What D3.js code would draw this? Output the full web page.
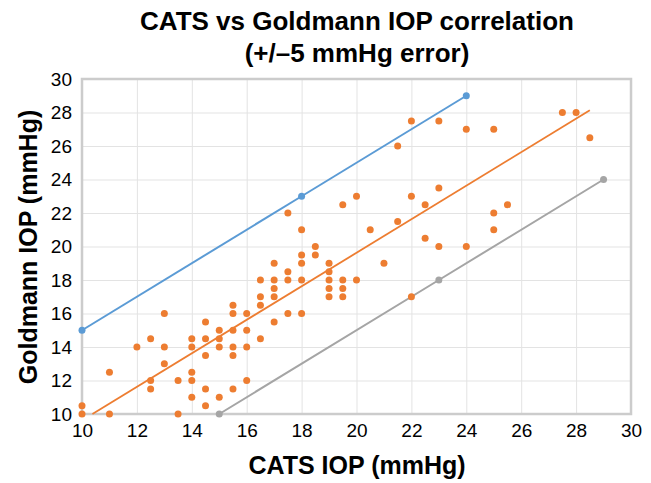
<!DOCTYPE html>
<html>
<head>
<meta charset="utf-8">
<script src="https://cdn.jsdelivr.net/npm/d3@7"></script>
<style>
  body { margin: 0; background: #fff; }
  text { font-family: "Liberation Sans", Arial, sans-serif; }
</style>
</head>
<body>
<div id="chart"></div>
<script>
// measured CATS / Goldmann pairs (mmHg)
var catsIOP = [10, 10, 11, 11, 12, 12.5, 12.5, 12.5, 13, 13, 13, 13.5, 13.5,
  14, 14, 14, 14, 14,
  14.5, 14.5, 14.5, 14.5, 14.5,
  15, 15, 15, 15,
  15.5, 15.5, 15.5, 15.5, 15.5, 15.5,
  16, 16, 16, 16,
  16.5, 16.5, 16.5, 16.5,
  17, 17, 17, 17, 17,
  17.5, 17.5, 17.5, 17.5,
  18, 18, 18, 18, 18,
  18.5, 18.5,
  19, 19, 19, 19, 19,
  19.5, 19.5, 19.5, 19.5,
  20, 20,
  20.5, 21, 21.5, 21.5,
  22, 22, 22,
  22.5, 22.5,
  23, 23, 23,
  24, 24,
  25, 25, 25, 25.5,
  27.5, 28, 28.5]
var goldmannIOP = [10, 10.5, 10, 12.5, 14, 14.5, 12, 11.5, 16, 14, 13, 12, 10,
  14.5, 14, 12.5, 12, 11,
  15.5, 14.5, 13.5, 11.5, 10.5,
  15, 14.5, 14, 11,
  16.5, 16, 15, 14, 13.5, 11.5,
  16, 15, 14, 12,
  18, 17, 16.5, 14.5,
  19, 18, 17.5, 17, 15.5,
  22, 18.5, 18, 16,
  21, 19.5, 19, 18, 16,
  20, 19.5,
  19, 18.5, 18, 17.5, 17,
  22.5, 18, 17.5, 17,
  23, 18,
  21, 19, 26, 21.5,
  27.5, 23, 17,
  22.5, 20.5,
  27.5, 23.5, 20,
  27, 20,
  27, 22, 21, 22.5,
  28, 28, 26.5]

// +5 / -5 error limit lines
var upperX = [10, 18, 24]
var upperY = [15, 23, 29]
var lowerX = [15, 23, 29]
var lowerY = [10, 18, 24]

// linear trendline ends
var trendX = [10.38, 28.5]
var trendY = [10, 28.13]

var xTicks = [10, 12, 14, 16, 18, 20, 22, 24, 26, 28, 30]
var yTicks = [10, 12, 14, 16, 18, 20, 22, 24, 26, 28, 30]

var W = 651, H = 483
var margin = { top: 79, right: 20, bottom: 69, left: 82 }
var w = W - margin.left - margin.right
var h = H - margin.top - margin.bottom

var svg = d3.select('#chart').append('svg')
    .attr('width', W)
    .attr('height', H)

var g = svg.append('g')
    .attr('transform', 'translate(' + margin.left + ',' + margin.top + ')')

var xScale = d3.scaleLinear().domain([10, 30]).range([0, w])
var yScale = d3.scaleLinear().domain([10, 30]).range([h, 0])

// grid
g.append('g')
    .call(d3.axisBottom(xScale).tickValues(xTicks).tickSize(h).tickFormat(''))
    .call(function (s) { s.select('.domain').remove() })
    .selectAll('line').attr('stroke', '#e3e3e3')
g.append('g')
    .call(d3.axisLeft(yScale).tickValues(yTicks).tickSize(-w).tickFormat(''))
    .call(function (s) { s.select('.domain').remove() })
    .selectAll('line').attr('stroke', '#e3e3e3')

// plot border
g.append('rect')
    .attr('width', w)
    .attr('height', h)
    .attr('fill', 'none')
    .attr('stroke', '#cccccc')
    .attr('stroke-width', 2.5)

// tick labels
var xAxis = g.append('g')
    .attr('transform', 'translate(0,' + h + ')')
    .call(d3.axisBottom(xScale).tickValues(xTicks).tickSize(0).tickPadding(10))
xAxis.select('.domain').remove()
xAxis.selectAll('text')
    .attr('font-size', 19)
    .attr('fill', '#000')
    .attr('font-family', '"Liberation Sans", Arial, sans-serif')

var yAxis = g.append('g')
    .call(d3.axisLeft(yScale).tickValues(yTicks).tickSize(0).tickPadding(10))
yAxis.select('.domain').remove()
yAxis.selectAll('text')
    .attr('font-size', 19)
    .attr('fill', '#000')
    .attr('font-family', '"Liberation Sans", Arial, sans-serif')

var line = d3.line()
    .x(function (d) { return xScale(d[0]) })
    .y(function (d) { return yScale(d[1]) })

// limit lines
function limitSeries(xs, ys, color) {
  var pts = xs.map(function (x, i) { return [x, ys[i]] })
  g.append('path')
      .datum(pts)
      .attr('d', line)
      .attr('fill', 'none')
      .attr('stroke', color)
      .attr('stroke-width', 2)
  g.selectAll(null)
      .data(pts)
      .enter()
    .append('circle')
      .attr('cx', function (d) { return xScale(d[0]) })
      .attr('cy', function (d) { return yScale(d[1]) })
      .attr('r', 3.5)
      .attr('fill', color)
}
limitSeries(upperX, upperY, '#5b9bd5')
limitSeries(lowerX, lowerY, '#a5a5a5')

// trendline
g.append('path')
    .datum(trendX.map(function (x, i) { return [x, trendY[i]] }))
    .attr('d', line)
    .attr('fill', 'none')
    .attr('stroke', '#ed7d31')
    .attr('stroke-width', 1.8)

// measurements
g.selectAll('circle.pt')
    .data(catsIOP)
    .enter()
  .append('circle')
    .attr('class', 'pt')
    .attr('cx', function (d) { return xScale(d) })
    .attr('cy', function (d, i) { return yScale(goldmannIOP[i]) })
    .attr('r', 3.5)
    .attr('fill', '#ed7d31')

// titles
var title = svg.append('text')
    .attr('x', 357)
    .attr('text-anchor', 'middle')
    .attr('font-size', 26)
    .attr('font-weight', 'bold')
title.append('tspan').attr('x', 357).attr('y', 30).text('CATS vs Goldmann IOP correlation')
title.append('tspan').attr('x', 357).attr('y', 62).text('(+/\u20135 mmHg error)')

svg.append('text')
    .attr('x', 357)
    .attr('y', 474)
    .attr('text-anchor', 'middle')
    .attr('font-size', 25)
    .attr('font-weight', 'bold')
    .text('CATS IOP (mmHg)')

svg.append('text')
    .attr('transform', 'translate(37,247) rotate(-90)')
    .attr('text-anchor', 'middle')
    .attr('font-size', 25)
    .attr('font-weight', 'bold')
    .text('Goldmann IOP (mmHg)')
</script>
</body>
</html>
